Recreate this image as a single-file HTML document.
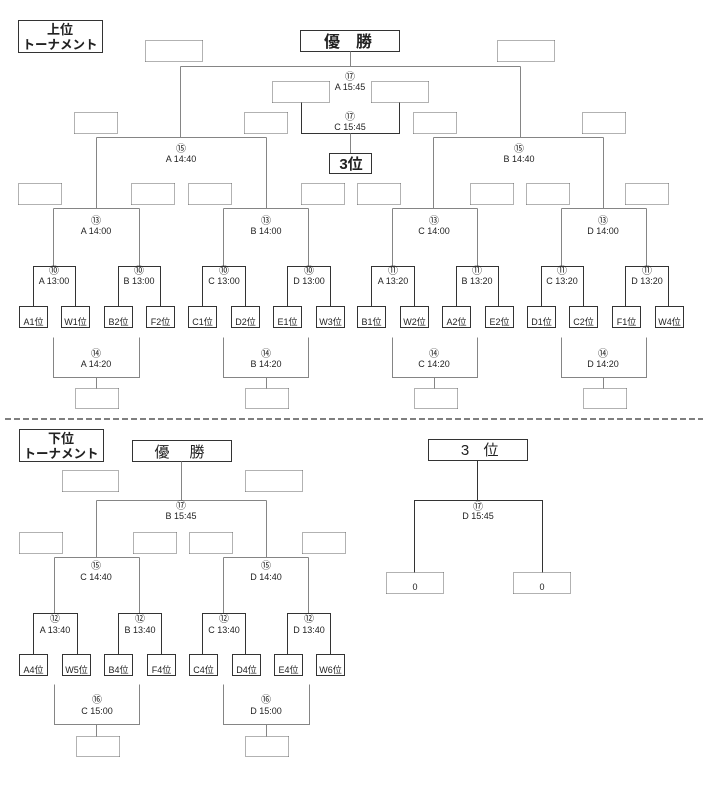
<!DOCTYPE html>
<html><head><meta charset="utf-8"><style>
html,body{margin:0;padding:0;background:#fff;}
svg{display:block;}
text{font-family:"Liberation Sans","Noto Sans CJK JP",sans-serif;fill:#222;}
.t{font-size:9px;text-anchor:middle;}
.c{font-size:10px;text-anchor:middle;font-family:"Noto Sans CJK JP","DejaVu Sans",sans-serif;}
.tm{font-size:9px;text-anchor:middle;}
.g{stroke:#858585;stroke-width:1;fill:none;}
.d{stroke:#333;stroke-width:1.2;fill:none;}
.b{stroke:#333;stroke-width:1.3;fill:#fff;}
.o{stroke:#666;stroke-width:1;stroke-dasharray:1.2 0.8;fill:#fff;}
</style></head><body>
<svg width="703" height="785" viewBox="0 0 703 785" xmlns="http://www.w3.org/2000/svg" shape-rendering="crispEdges">
<!-- ===== UPPER ===== -->
<rect class="b" x="18.5" y="20.5" width="84" height="32"/>
<text x="60" y="34" style="font-size:13px;font-weight:bold;text-anchor:middle">上位</text>
<text x="60" y="49" style="font-size:12.5px;font-weight:bold;text-anchor:middle">トーナメント</text>

<rect class="b" x="300.5" y="30.5" width="99" height="21"/>
<text x="332" y="47" style="font-size:16px;font-weight:bold;text-anchor:middle">優</text>
<text x="364" y="47" style="font-size:16px;font-weight:bold;text-anchor:middle">勝</text>

<rect class="o" x="145.5" y="40.5" width="57" height="21"/>
<rect class="o" x="497.5" y="40.5" width="57" height="21"/>

<path class="g" d="M350.5 51.5V66.5M180.5 66.5H520.5M180.5 66.5V137.5M520.5 66.5V137.5"/>
<text class="c" x="350" y="80">⑰</text>
<text class="t" x="350" y="90">A 15:45</text>
<rect class="o" x="272.5" y="81.5" width="57" height="21"/>
<rect class="o" x="371.5" y="81.5" width="57" height="21"/>
<path class="d" d="M301.5 102.5V133.5H399.5V102.5"/>
<text class="c" x="350" y="120">⑰</text>
<text class="t" x="350" y="130">C 15:45</text>
<path class="g" d="M350.5 133.5V153.5"/>
<rect class="b" x="329.5" y="153.5" width="42" height="20"/>
<text x="351" y="169" style="font-size:15px;font-weight:bold;text-anchor:middle">3位</text>

<rect class="o" x="74.5" y="112.5" width="43" height="21"/>
<rect class="o" x="244.5" y="112.5" width="43" height="21"/>
<rect class="o" x="413.5" y="112.5" width="43" height="21"/>
<rect class="o" x="582.5" y="112.5" width="43" height="21"/>

<path class="g" d="M96.5 137.5H266.5M96.5 137.5V208.5M266.5 137.5V208.5"/>
<path class="g" d="M433.5 137.5H603.5M433.5 137.5V208.5M603.5 137.5V208.5"/>
<text class="c" x="181" y="152">⑮</text>
<text class="t" x="181" y="162">A 14:40</text>
<text class="c" x="519" y="152">⑮</text>
<text class="t" x="519" y="162">B 14:40</text>

<rect class="o" x="18.5" y="183.5" width="43" height="21"/>
<rect class="o" x="131.5" y="183.5" width="43" height="21"/>
<rect class="o" x="188.5" y="183.5" width="43" height="21"/>
<rect class="o" x="301.5" y="183.5" width="43" height="21"/>
<rect class="o" x="357.5" y="183.5" width="43" height="21"/>
<rect class="o" x="470.5" y="183.5" width="43" height="21"/>
<rect class="o" x="526.5" y="183.5" width="43" height="21"/>
<rect class="o" x="625.5" y="183.5" width="43" height="21"/>

<!-- quarter brackets -->
<path class="g" d="M53.5 208.5H139.5M53.5 208.5V266.5M139.5 208.5V266.5"/>
<path class="g" d="M223.5 208.5H308.5M223.5 208.5V266.5M308.5 208.5V266.5"/>
<path class="g" d="M392.5 208.5H477.5M392.5 208.5V266.5M477.5 208.5V266.5"/>
<path class="g" d="M561.5 208.5H646.5M561.5 208.5V266.5M646.5 208.5V266.5"/>
<text class="c" x="96" y="224">⑬</text><text class="t" x="96" y="234">A 14:00</text>
<text class="c" x="266" y="224">⑬</text><text class="t" x="266" y="234">B 14:00</text>
<text class="c" x="434" y="224">⑬</text><text class="t" x="434" y="234">C 14:00</text>
<text class="c" x="603" y="224">⑬</text><text class="t" x="603" y="234">D 14:00</text>

<!-- sub brackets -->
<path class="d" d="M33.5 306.5V266.5H75.5V306.5M118.5 306.5V266.5H160.5V306.5"/>
<path class="d" d="M202.5 306.5V266.5H245.5V306.5M287.5 306.5V266.5H330.5V306.5"/>
<path class="d" d="M371.5 306.5V266.5H414.5V306.5M456.5 306.5V266.5H498.5V306.5"/>
<path class="d" d="M541.5 306.5V266.5H583.5V306.5M625.5 306.5V266.5H668.5V306.5"/>
<text class="c" x="54" y="274">⑩</text><text class="t" x="54" y="284">A 13:00</text>
<text class="c" x="139" y="274">⑩</text><text class="t" x="139" y="284">B 13:00</text>
<text class="c" x="224" y="274">⑩</text><text class="t" x="224" y="284">C 13:00</text>
<text class="c" x="309" y="274">⑩</text><text class="t" x="309" y="284">D 13:00</text>
<text class="c" x="393" y="274">⑪</text><text class="t" x="393" y="284">A 13:20</text>
<text class="c" x="477" y="274">⑪</text><text class="t" x="477" y="284">B 13:20</text>
<text class="c" x="562" y="274">⑪</text><text class="t" x="562" y="284">C 13:20</text>
<text class="c" x="647" y="274">⑪</text><text class="t" x="647" y="284">D 13:20</text>

<!-- team boxes upper -->
<rect class="b" x="19.5" y="306.5" width="28" height="21"/><text class="tm" x="33.5" y="325">A1位</text>
<rect class="b" x="61.5" y="306.5" width="28" height="21"/><text class="tm" x="75.5" y="325">W1位</text>
<rect class="b" x="104.5" y="306.5" width="28" height="21"/><text class="tm" x="118.5" y="325">B2位</text>
<rect class="b" x="146.5" y="306.5" width="28" height="21"/><text class="tm" x="160.5" y="325">F2位</text>
<rect class="b" x="188.5" y="306.5" width="28" height="21"/><text class="tm" x="202.5" y="325">C1位</text>
<rect class="b" x="231.5" y="306.5" width="28" height="21"/><text class="tm" x="245.5" y="325">D2位</text>
<rect class="b" x="273.5" y="306.5" width="28" height="21"/><text class="tm" x="287.5" y="325">E1位</text>
<rect class="b" x="316.5" y="306.5" width="28" height="21"/><text class="tm" x="330.5" y="325">W3位</text>
<rect class="b" x="357.5" y="306.5" width="28" height="21"/><text class="tm" x="371.5" y="325">B1位</text>
<rect class="b" x="400.5" y="306.5" width="28" height="21"/><text class="tm" x="414.5" y="325">W2位</text>
<rect class="b" x="442.5" y="306.5" width="28" height="21"/><text class="tm" x="456.5" y="325">A2位</text>
<rect class="b" x="485.5" y="306.5" width="28" height="21"/><text class="tm" x="499.5" y="325">E2位</text>
<rect class="b" x="527.5" y="306.5" width="28" height="21"/><text class="tm" x="541.5" y="325">D1位</text>
<rect class="b" x="569.5" y="306.5" width="28" height="21"/><text class="tm" x="583.5" y="325">C2位</text>
<rect class="b" x="612.5" y="306.5" width="28" height="21"/><text class="tm" x="626.5" y="325">F1位</text>
<rect class="b" x="655.5" y="306.5" width="28" height="21"/><text class="tm" x="669.5" y="325">W4位</text>

<!-- loser brackets upper -->
<path class="g" d="M53.5 337.5V377.5H139.5V337.5M96.5 377.5V388.5"/>
<path class="g" d="M223.5 337.5V377.5H308.5V337.5M266.5 377.5V388.5"/>
<path class="g" d="M392.5 337.5V377.5H477.5V337.5M434.5 377.5V388.5"/>
<path class="g" d="M561.5 337.5V377.5H646.5V337.5M603.5 377.5V388.5"/>
<text class="c" x="96" y="357">⑭</text><text class="t" x="96" y="367">A 14:20</text>
<text class="c" x="266" y="357">⑭</text><text class="t" x="266" y="367">B 14:20</text>
<text class="c" x="434" y="357">⑭</text><text class="t" x="434" y="367">C 14:20</text>
<text class="c" x="603" y="357">⑭</text><text class="t" x="603" y="367">D 14:20</text>
<rect class="o" x="75.5" y="388.5" width="43" height="20"/>
<rect class="o" x="245.5" y="388.5" width="43" height="20"/>
<rect class="o" x="414.5" y="388.5" width="43" height="20"/>
<rect class="o" x="583.5" y="388.5" width="43" height="20"/>

<!-- dashed separator -->
<line x1="5" y1="419" x2="703" y2="419" stroke="#555" stroke-width="1.6" stroke-dasharray="6 3" shape-rendering="auto"/>

<!-- ===== LOWER ===== -->
<rect class="b" x="19.5" y="429.5" width="84" height="32"/>
<text x="61" y="443" style="font-size:13px;font-weight:bold;text-anchor:middle">下位</text>
<text x="61" y="458" style="font-size:12.5px;font-weight:bold;text-anchor:middle">トーナメント</text>

<rect class="b" x="132.5" y="440.5" width="99" height="21"/>
<text x="162" y="457" style="font-size:15px;text-anchor:middle">優</text>
<text x="197" y="457" style="font-size:15px;text-anchor:middle">勝</text>

<rect class="o" x="62.5" y="470.5" width="56" height="21"/>
<rect class="o" x="245.5" y="470.5" width="57" height="21"/>
<path class="g" d="M181.5 461.5V500.5M96.5 500.5H266.5M96.5 500.5V557.5M266.5 500.5V557.5"/>
<text class="c" x="181" y="509">⑰</text><text class="t" x="181" y="519">B 15:45</text>

<rect class="o" x="19.5" y="532.5" width="43" height="21"/>
<rect class="o" x="133.5" y="532.5" width="43" height="21"/>
<rect class="o" x="189.5" y="532.5" width="43" height="21"/>
<rect class="o" x="302.5" y="532.5" width="43" height="21"/>

<path class="g" d="M54.5 557.5H139.5M54.5 557.5V613.5M139.5 557.5V613.5"/>
<path class="g" d="M223.5 557.5H308.5M223.5 557.5V613.5M308.5 557.5V613.5"/>
<text class="c" x="96" y="569">⑮</text><text class="t" x="96" y="580">C 14:40</text>
<text class="c" x="266" y="569">⑮</text><text class="t" x="266" y="580">D 14:40</text>

<path class="d" d="M33.5 654.5V613.5H77.5V654.5M118.5 654.5V613.5H161.5V654.5"/>
<path class="d" d="M202.5 654.5V613.5H245.5V654.5M287.5 654.5V613.5H330.5V654.5"/>
<text class="c" x="55" y="622">⑫</text><text class="t" x="55" y="633">A 13:40</text>
<text class="c" x="140" y="622">⑫</text><text class="t" x="140" y="633">B 13:40</text>
<text class="c" x="224" y="622">⑫</text><text class="t" x="224" y="633">C 13:40</text>
<text class="c" x="309" y="622">⑫</text><text class="t" x="309" y="633">D 13:40</text>

<rect class="b" x="19.5" y="654.5" width="28" height="21"/><text class="tm" x="33.5" y="673">A4位</text>
<rect class="b" x="62.5" y="654.5" width="28" height="21"/><text class="tm" x="76.5" y="673">W5位</text>
<rect class="b" x="104.5" y="654.5" width="28" height="21"/><text class="tm" x="118.5" y="673">B4位</text>
<rect class="b" x="147.5" y="654.5" width="28" height="21"/><text class="tm" x="161.5" y="673">F4位</text>
<rect class="b" x="189.5" y="654.5" width="28" height="21"/><text class="tm" x="203.5" y="673">C4位</text>
<rect class="b" x="232.5" y="654.5" width="28" height="21"/><text class="tm" x="246.5" y="673">D4位</text>
<rect class="b" x="274.5" y="654.5" width="28" height="21"/><text class="tm" x="288.5" y="673">E4位</text>
<rect class="b" x="316.5" y="654.5" width="28" height="21"/><text class="tm" x="330.5" y="673">W6位</text>

<path class="g" d="M54.5 684.5V724.5H139.5V684.5M96.5 724.5V736.5"/>
<path class="g" d="M223.5 684.5V724.5H309.5V684.5M266.5 724.5V736.5"/>
<text class="c" x="97" y="703">⑯</text><text class="t" x="97" y="714">C 15:00</text>
<text class="c" x="266" y="703">⑯</text><text class="t" x="266" y="714">D 15:00</text>
<rect class="o" x="76.5" y="736.5" width="43" height="20"/>
<rect class="o" x="245.5" y="736.5" width="43" height="20"/>

<!-- lower 3rd place -->
<rect class="b" x="428.5" y="439.5" width="99" height="21"/>
<text x="465" y="455" style="font-size:15px;text-anchor:middle">3</text>
<text x="491" y="455" style="font-size:15px;text-anchor:middle">位</text>
<path class="d" d="M477.5 460.5V500.5M414.5 572.5V500.5H542.5V572.5"/>
<text class="c" x="478" y="510">⑰</text><text class="t" x="478" y="519">D 15:45</text>
<rect class="o" x="386.5" y="572.5" width="57" height="21"/>
<rect class="o" x="513.5" y="572.5" width="57" height="21"/>
<text class="t" x="415" y="590">0</text>
<text class="t" x="542" y="590">0</text>
</svg>
</body></html>
